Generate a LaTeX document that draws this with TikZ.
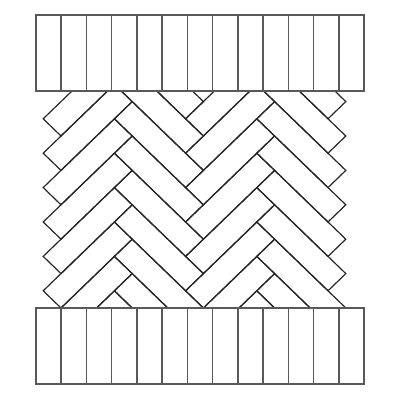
\documentclass[tikz,border=0pt]{standalone}
\usetikzlibrary{calc}
\tikzset{
	plank/.style={line width=0.85pt, color=black!85, line join=miter},
	strip/.style={line width=1.1pt, color=black!65, fill=white},
}
% one board of each direction, in herringbone units
\def\plankA(#1,#2){\draw[plank] (#1,#2) -- ++(4,-4) -- ++(-1,-1) -- ++(-4,4) -- cycle;}
\def\plankB(#1,#2){\draw[plank] (#1+3,#2-5) -- ++(1,-1) -- ++(4,4) -- ++(-1,1) -- cycle;}

\begin{document}
\begin{tikzpicture}[x=0.25mm, y=-0.25mm]
			%%%%% START %%%%%
			\useasboundingbox (0,0) rectangle (400,400);
			
			% herringbone field
			\begin{scope}
				\clip (0,91) rectangle (400,308);
				\begin{scope}[shift={(61,308)}, x=4.45mm, y=-4.3mm]
					\foreach \c in {0,8}
						\foreach \yy in {4,2,...,-10} {
							\plankA(\c,\yy)
							\plankB(\c,\yy)
						}
				\end{scope}
			\end{scope}
			
			% top row
			\foreach \i in {0,...,12}
				\draw[strip] ({36+\i*328/13},15) rectangle ++(328/13,76);
			
			% bottom row
			\foreach \i in {0,...,12}
				\draw[strip] ({36+\i*328/13},308) rectangle ++(328/13,76);
			
			%%%%% END %%%%%
\end{tikzpicture}
\end{document}
